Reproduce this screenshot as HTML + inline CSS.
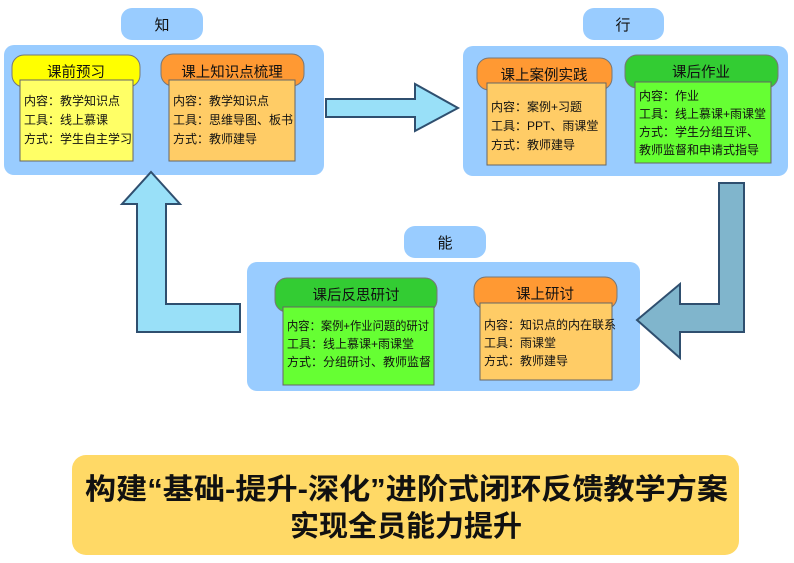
<!DOCTYPE html>
<html><head><meta charset="utf-8"><style>
html,body{margin:0;padding:0;background:#fff;}
svg{display:block;}
text{font-family:"Liberation Sans","Noto Sans CJK SC",sans-serif;fill:#111;}
.h{font-size:14.5px;text-anchor:middle;}
.b{font-size:12px;}
</style></head><body>
<svg width="794" height="563" viewBox="0 0 794 563" xmlns="http://www.w3.org/2000/svg">
<rect x="121" y="8" width="82" height="32" rx="11" fill="#99ccff"/>
<text x="162" y="30" class="h" style="font-size:15px">知</text>
<rect x="583" y="8" width="81" height="32" rx="11" fill="#99ccff"/>
<text x="623" y="30" class="h" style="font-size:15px">行</text>
<rect x="404" y="226" width="82" height="32" rx="11" fill="#99ccff"/>
<text x="445" y="248" class="h" style="font-size:15px">能</text>

<rect x="4" y="45" width="320" height="130" rx="10" fill="#99ccff"/>
<rect x="463" y="46" width="325" height="130" rx="10" fill="#99ccff"/>
<rect x="247" y="262" width="393" height="129" rx="10" fill="#99ccff"/>

<polygon points="326,99 415,99 415,84 458,108 415,131 415,117 326,117" fill="#99e0f8" stroke="#2f4f6f" stroke-width="2"/>
<polygon points="719,183 744,183 744,332 680,332 680,358 637,320 680,284 680,304 719,304" fill="#80b5cc" stroke="#2f4f6f" stroke-width="2"/>
<polygon points="137,332 137,204 122,204 151,172 180,204 166,204 166,304 240,304 240,332" fill="#99e0f8" stroke="#2f4f6f" stroke-width="2"/>

<rect x="12" y="55" width="128" height="32" rx="12" fill="#ffff00" stroke="#777" stroke-width="1"/>
<text x="76" y="77" class="h">课前预习</text>
<rect x="20" y="80" width="113" height="81" fill="#ffff66" stroke="#666" stroke-width="1"/>
<text x="24" y="105" class="b">内容：教学知识点</text>
<text x="24" y="124" class="b">工具：线上慕课</text>
<text x="24" y="143" class="b">方式：学生自主学习</text>

<rect x="161" y="54" width="143" height="32" rx="12" fill="#ff9933" stroke="#777" stroke-width="1"/>
<text x="232" y="77" class="h">课上知识点梳理</text>
<rect x="169" y="80" width="126" height="81" fill="#ffcc66" stroke="#666" stroke-width="1"/>
<text x="173" y="105" class="b">内容：教学知识点</text>
<text x="173" y="124" class="b">工具：思维导图、板书</text>
<text x="173" y="143" class="b">方式：教师建导</text>

<rect x="477" y="58" width="135" height="32" rx="12" fill="#ff9933" stroke="#777" stroke-width="1"/>
<text x="544" y="80" class="h">课上案例实践</text>
<rect x="487" y="83" width="119" height="82" fill="#ffcc66" stroke="#666" stroke-width="1"/>
<text x="491" y="111" class="b">内容：案例+习题</text>
<text x="491" y="130" class="b">工具：PPT、雨课堂</text>
<text x="491" y="149" class="b">方式：教师建导</text>

<rect x="625" y="55" width="153" height="33" rx="12" fill="#33cc33" stroke="#777" stroke-width="1"/>
<text x="701" y="77" class="h">课后作业</text>
<rect x="635" y="82" width="136" height="81" fill="#66ff33" stroke="#666" stroke-width="1"/>
<text x="639" y="100" class="b">内容：作业</text>
<text x="639" y="118" class="b">工具：线上慕课+雨课堂</text>
<text x="639" y="136" class="b">方式：学生分组互评、</text>
<text x="639" y="154" class="b">教师监督和申请式指导</text>

<rect x="275" y="278" width="162" height="34" rx="12" fill="#33cc33" stroke="#777" stroke-width="1"/>
<text x="356" y="300" class="h">课后反思研讨</text>
<rect x="283" y="307" width="151" height="78" fill="#66ff33" stroke="#666" stroke-width="1"/>
<text x="287" y="330" class="b" textLength="142" lengthAdjust="spacingAndGlyphs">内容：案例+作业问题的研讨</text>
<text x="287" y="348" class="b">工具：线上慕课+雨课堂</text>
<text x="287" y="366" class="b">方式：分组研讨、教师监督</text>

<rect x="474" y="277" width="143" height="32" rx="12" fill="#ff9933" stroke="#777" stroke-width="1"/>
<text x="545" y="299" class="h">课上研讨</text>
<rect x="480" y="303" width="132" height="77" fill="#ffcc66" stroke="#666" stroke-width="1"/>
<text x="484" y="329" class="b">内容：知识点的内在联系</text>
<text x="484" y="347" class="b">工具：雨课堂</text>
<text x="484" y="365" class="b">方式：教师建导</text>

<rect x="72" y="455" width="667" height="100" rx="14" fill="#ffd966"/>
<text x="85" y="499" textLength="643" lengthAdjust="spacingAndGlyphs" style="font-size:29px;font-weight:bold">构建“基础-提升-深化”进阶式闭环反馈教学方案</text>
<text x="406" y="536" text-anchor="middle" style="font-size:29px;font-weight:bold">实现全员能力提升</text>
</svg>
</body></html>
